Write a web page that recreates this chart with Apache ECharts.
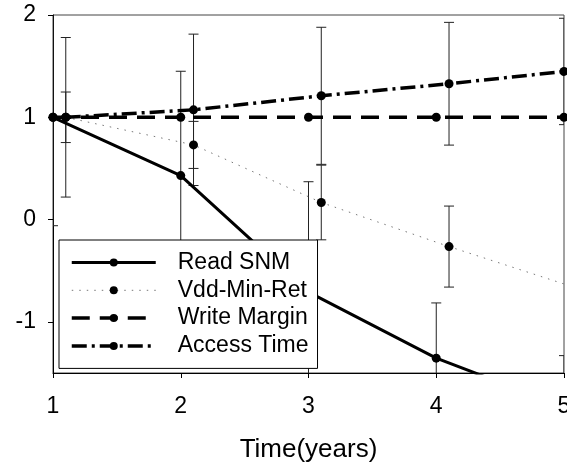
<!DOCTYPE html>
<html>
<head>
<meta charset="utf-8">
<script src="https://cdn.jsdelivr.net/npm/echarts@6/dist/echarts.min.js"></script>
<style>
  html, body { margin: 0; padding: 0; background: #fff; }
  #chart { width: 567px; height: 463px; }
</style>
</head>
<body>
<div id="chart"></div>
<script>
// Degradation of SRAM metrics over time (normalised), with error bars
const seriesNames = ['Read SNM', 'Vdd-Min-Ret', 'Write Margin', 'Access Time'];

const readSnmX = [1, 2, 3, 4, 5];
const readSnmY = [1.0, 0.43, -0.71, -1.355, -1.83];
const readSnmErr = [1.06, 1.02, 1.08, 0.54, 0.5];

const vddMinRetX = [1.1, 2.1, 3.1, 4.1, 5.1];
const vddMinRetY = [1.0, 0.73, 0.167, -0.264, -0.67];
const vddMinRetErr = [0.247, 0.23, 0.365, 0.396, 0.4];

const writeMarginX = [1, 2, 3, 4, 5];
const writeMarginY = [1.0, 1.0, 1.0, 1.0, 1.0];

const accessTimeX = [1.1, 2.1, 3.1, 4.1, 5.0];
const accessTimeY = [1.0, 1.073, 1.21, 1.328, 1.448];
const accessTimeErr = [0.78, 0.74, 0.67, 0.60, 0.52];

const xTicks = [1, 2, 3, 4, 5];
const yTicks = [-1, 0, 1, 2];

const FONT = '"Liberation Sans", Arial, sans-serif';

function pairs(xs, ys) {
  return xs.map((x, i) => [x, ys[i]]);
}
function errorRows(xs, ys, errs) {
  return xs.map((x, i) => [x, ys[i] - errs[i], ys[i] + errs[i]]);
}

function renderErrorBar(params, api) {
  const x = api.value(0);
  const lo = api.coord([x, api.value(1)]);
  const hi = api.coord([x, api.value(2)]);
  const cap = 5;
  const style = { stroke: '#222', lineWidth: 1 };
  return {
    type: 'group',
    children: [
      { type: 'line', shape: { x1: lo[0], y1: lo[1], x2: hi[0], y2: hi[1] }, style },
      { type: 'line', shape: { x1: lo[0] - cap, y1: lo[1], x2: lo[0] + cap, y2: lo[1] }, style },
      { type: 'line', shape: { x1: hi[0] - cap, y1: hi[1], x2: hi[0] + cap, y2: hi[1] }, style }
    ]
  };
}

function errorSeries(xs, ys, errs) {
  return {
    type: 'custom',
    renderItem: renderErrorBar,
    data: errorRows(xs, ys, errs),
    clip: true,
    silent: true,
    z: 1,
    encode: { x: 0, y: [1, 2] }
  };
}

function lineSeries(name, xs, ys, lineStyle) {
  return {
    name,
    type: 'line',
    data: pairs(xs, ys),
    symbol: 'circle',
    symbolSize: 9,
    showSymbol: true,
    clip: true,
    z: 3,
    itemStyle: { color: '#000' },
    lineStyle: Object.assign({ color: '#000', cap: 'butt' }, lineStyle)
  };
}

const chart = echarts.init(document.getElementById('chart'), null, { renderer: 'canvas' });

chart.setOption({
  animation: false,
  backgroundColor: '#fff',
  textStyle: { fontFamily: FONT },
  grid: {
    left: 53, right: 3, top: 15, bottom: 90,
    containLabel: false,
    outerBoundsMode: 'none',
    show: true, borderColor: '#444', borderWidth: 1, backgroundColor: 'transparent'
  },
  xAxis: {
    type: 'value',
    min: 1, max: 5, interval: 1,
    name: 'Time(years)',
    nameLocation: 'middle',
    nameGap: 64,
    nameTextStyle: { fontSize: 26, color: '#000', fontFamily: FONT },
    axisLine: { show: true, onZero: false, lineStyle: { color: '#000', width: 1 } },
    axisTick: { show: true, length: 5, lineStyle: { color: '#000' } },
    axisLabel: { fontSize: 23, color: '#000', margin: 22, fontFamily: FONT,
      customValues: xTicks, showMinLabel: true, showMaxLabel: true, hideOverlap: false },
    splitLine: { show: false }
  },
  yAxis: {
    type: 'value',
    min: -1.5, max: 2,
    axisLine: { show: true, onZero: false, lineStyle: { color: '#000', width: 1 } },
    axisTick: { show: true, length: 5, customValues: yTicks, lineStyle: { color: '#000' } },
    axisLabel: { fontSize: 23, color: '#000', margin: 17, fontFamily: FONT, customValues: yTicks },
    splitLine: { show: false }
  },
  legend: {
    data: seriesNames,
    orient: 'vertical',
    left: 59, top: 240,
    padding: [11, 9, 11, 11],
    itemWidth: 84, itemHeight: 10, itemGap: 4.8,
    backgroundColor: '#fff',
    borderColor: '#000', borderWidth: 1, borderRadius: 0,
    lineStyle: { width: 'inherit' },
    textStyle: { fontSize: 23, color: '#000', fontFamily: FONT, padding: [0, 0, 0, 17] },
    z: 10
  },
  series: [
    errorSeries(readSnmX, readSnmY, readSnmErr),
    errorSeries(vddMinRetX, vddMinRetY, vddMinRetErr),
    errorSeries(accessTimeX, accessTimeY, accessTimeErr),
    lineSeries('Read SNM', readSnmX, readSnmY, { width: 3, type: 'solid' }),
    lineSeries('Vdd-Min-Ret', vddMinRetX, vddMinRetY, { width: 1, type: [1.5, 6], color: '#777' }),
    lineSeries('Write Margin', writeMarginX, writeMarginY, { width: 3.5, type: [18, 10] }),
    lineSeries('Access Time', accessTimeX, accessTimeY, { width: 3.5, type: [15, 5, 3, 5] })
  ]
});
</script>
</body>
</html>
